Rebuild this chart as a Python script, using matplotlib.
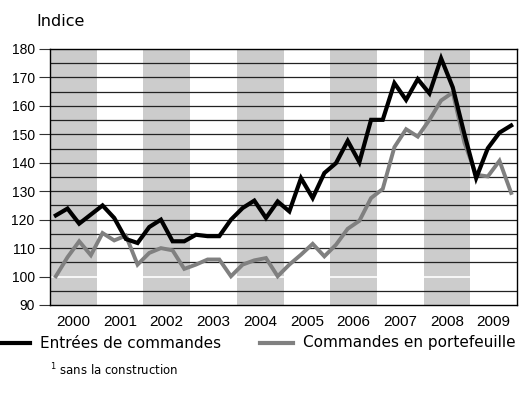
import matplotlib.pyplot as plt
import numpy as np

years = ['2000', '2001', '2002', '2003', '2004', '2005', '2006', '2007', '2008', '2009']

# quarterly index values, 2000 Q1 .. 2009 Q4
entrees = [121.5, 123.9, 118.6, 121.8, 125.0, 120.6, 113.2, 111.8,
           117.4, 120.0, 112.4, 112.4, 114.7, 114.2, 114.2, 120.0,
           124.1, 126.7, 120.6, 126.4, 122.9, 134.6, 127.6, 136.4,
           139.9, 147.7, 140.2, 155.1, 155.1, 168.0, 162.1, 169.4,
           164.4, 176.7, 166.5, 150.0, 134.6, 145.1, 150.6, 153.1]
portefeuille = [100.1, 106.8, 112.4, 107.5, 115.3, 112.7, 114.4, 104.2,
                108.3, 110.0, 109.2, 102.7, 104.2, 106.0, 106.0, 100.1,
                104.2, 105.7, 106.5, 100.1, 104.2, 107.7, 111.5, 107.1,
                111.2, 116.8, 119.6, 127.6, 130.8, 145.5, 151.8, 149.2,
                155.1, 161.9, 164.7, 147.0, 135.8, 135.2, 140.7, 129.4]

x = np.arange(len(entrees)) / 4 + 0.125

fig = plt.figure(figsize=(5.23, 4.04), dpi=100)
ax = fig.add_axes([50 / 523, 99 / 404, 467 / 523, 256 / 404])

for i in range(0, len(years), 2):
    ax.axvspan(i, i + 1, color='#cccccc', lw=0, zorder=0)

for v in range(95, 180, 5):
    if v == 100:
        ax.axhline(v, color='white', lw=1.2, zorder=1)
    else:
        ax.axhline(v, color='#222222', lw=0.9, zorder=1)

ax.plot(x, portefeuille, color='#808080', lw=2.8, zorder=3, solid_joinstyle='miter')
ax.plot(x, entrees, color='black', lw=3.0, zorder=4, solid_joinstyle='miter')

ax.set_xlim(0, 10)
ax.set_ylim(90, 180)
ax.set_yticks(range(90, 181, 10))
ax.set_yticklabels([str(v) for v in range(90, 181, 10)], fontsize=10, family='Liberation Sans')
ax.set_xticks(np.arange(10) + 0.5)
ax.set_xticklabels(years, fontsize=11, family='Liberation Sans')
ax.tick_params(axis='x', length=0, pad=7)
ax.tick_params(axis='y', length=8, width=0.8, pad=3, color='#333333')
for s in ax.spines.values():
    s.set_linewidth(1.0)
    s.set_color('black')

fig.text(36 / 523, 1 - 22 / 404, 'Indice', fontsize=11.5, family='DejaVu Sans', va='center')

# legend
fig.lines.append(plt.Line2D([0, 30 / 523], [1 - 343 / 404] * 2, color='black', lw=3.0,
                            transform=fig.transFigure))
fig.text(40 / 523, 1 - 343 / 404, 'Entrées de commandes', fontsize=11, va='center',
         family='DejaVu Sans')
fig.lines.append(plt.Line2D([260 / 523, 293 / 523], [1 - 343 / 404] * 2, color='#808080', lw=3.0,
                            transform=fig.transFigure))
fig.text(303 / 523, 1 - 343 / 404, 'Commandes en portefeuille', fontsize=11, va='center',
         family='DejaVu Sans')
fig.text(50 / 523, 1 - 370 / 404, '$^1$ sans la construction', fontsize=8.5, va='center',
         family='DejaVu Sans')

fig.savefig('out.png', dpi=100)
